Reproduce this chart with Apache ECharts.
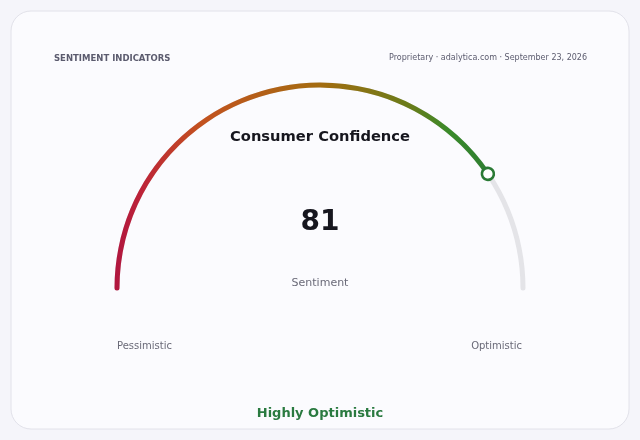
<!DOCTYPE html>
<html>
<head>
<meta charset="utf-8">
<script src="https://cdn.jsdelivr.net/npm/echarts@6/dist/echarts.min.js"></script>
<style>
html,body{margin:0;padding:0;background:#f5f5fa;}
#chart{width:640px;height:440px;}
</style>
</head>
<body>
<div id="chart"></div>
<script>
var headerLeft = 'SENTIMENT INDICATORS';
var headerRight = 'Proprietary · adalytica.com · September 23, 2026';
var gaugeTitle = 'Consumer Confidence';
var metricName = 'Sentiment';
var metricValue = 81;
var scaleMin = 0;
var scaleMax = 100;
var endLabels = ['Pessimistic', 'Optimistic'];
var verdict = 'Highly Optimistic';

var chart = echarts.init(document.getElementById('chart'), null, {renderer: 'canvas'});
var font = '"DejaVu Sans", sans-serif';
var grad = new echarts.graphic.LinearGradient(115, 0, 490, 0, [
  {offset: 0, color: '#b0163f'},
  {offset: 0.07, color: '#bd2338'},
  {offset: 0.23, color: '#c3521f'},
  {offset: 0.55, color: '#a36c10'},
  {offset: 0.79, color: '#687c1a'},
  {offset: 0.89, color: '#3a8a2a'},
  {offset: 1, color: '#2e7d32'}
], true);

var common = {
  type: 'gauge',
  center: [320, 288],
  radius: 205.5,
  startAngle: 180,
  endAngle: 0,
  min: scaleMin,
  max: scaleMax,
  splitLine: {show: false},
  axisTick: {show: false},
  axisLabel: {show: false},
  anchor: {show: false}
};

chart.setOption({
  backgroundColor: '#f5f5fa',
  graphic: [
    {type: 'rect', shape: {x: 11, y: 11, width: 618, height: 418, r: 20},
     style: {fill: '#fbfbfe', stroke: '#e2e2ea', lineWidth: 1}, z: -10},
    {type: 'text', left: 54, top: 54, style: {text: headerLeft, fill: '#5b5b6e', font: 'bold 8.5px ' + font}},
    {type: 'text', right: 53, top: 54, style: {text: headerRight, fill: '#5b5b6e', font: '8px ' + font}},
    {type: 'text', left: 'center', top: 130, style: {text: gaugeTitle, fill: '#16161e', font: 'bold 14.7px ' + font}},
    {type: 'text', left: 117, top: 341, style: {text: endLabels[0], fill: '#6a6a78', font: '10px ' + font}},
    {type: 'text', right: 118, top: 341, style: {text: endLabels[1], fill: '#6a6a78', font: '10px ' + font}},
    {type: 'text', left: 'center', top: 407.5, style: {text: verdict, fill: '#2a7a40', font: 'bold 13px ' + font}}
  ],
  series: [
    Object.assign({}, common, {
      z: 2,
      axisLine: {roundCap: true, lineStyle: {width: 5, color: [[1, '#e4e4e8']]}},
      progress: {show: true, roundCap: true, width: 5, itemStyle: {color: grad}},
      pointer: {show: false},
      title: {show: true, offsetCenter: [0, -5], color: '#6a6a78', fontSize: 11, fontFamily: font},
      detail: {show: true, offsetCenter: [0, -65], color: '#16161e', fontSize: 28, fontWeight: 'bold', fontFamily: font, formatter: '{value}'},
      data: [{value: metricValue, name: metricName}]
    }),
    Object.assign({}, common, {
      z: 5,
      axisLine: {show: false},
      progress: {show: false},
      pointer: {
        show: true,
        icon: 'circle',
        width: 12,
        length: 12,
        offsetCenter: [0, -197],
        itemStyle: {color: '#ffffff', borderColor: '#2a7a35', borderWidth: 2.6}
      },
      title: {show: false},
      detail: {show: false},
      data: [{value: metricValue, name: metricName}]
    })
  ]
});
</script>
</body>
</html>
